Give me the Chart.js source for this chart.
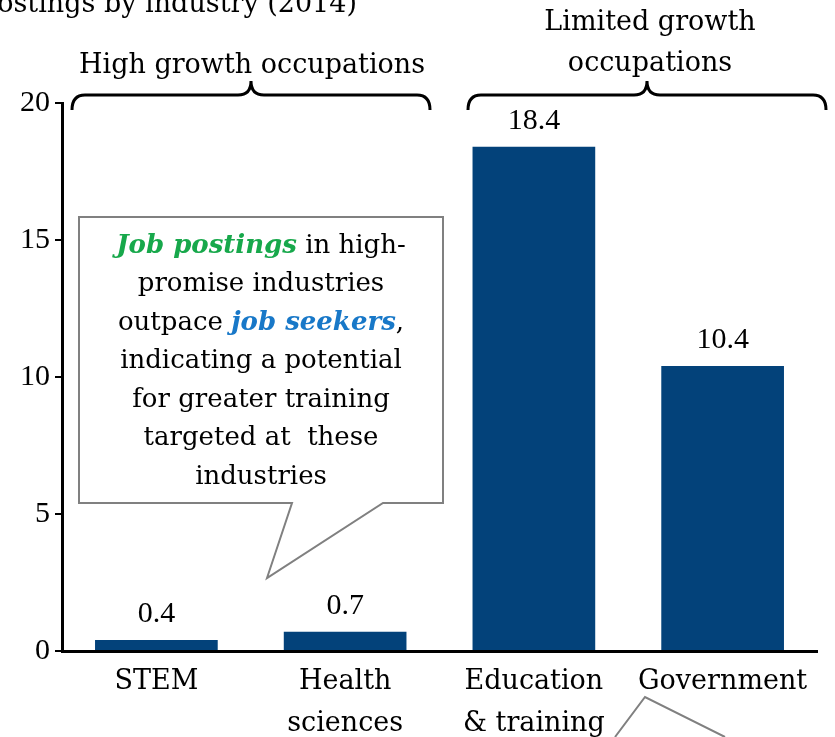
<!DOCTYPE html>
<html>
<head>
<meta charset="utf-8">
<script src="https://cdn.jsdelivr.net/npm/chart.js@4/dist/chart.umd.min.js"></script>
<style>
  body { margin: 0; background: #fff; }
  canvas { display: block; }
</style>
</head>
<body>
<canvas id="chart" width="835" height="737"></canvas>
<script>
const categories = [['STEM'], ['Health', 'sciences'], ['Education', '& training'], ['Government']];
const values = [0.4, 0.7, 18.4, 10.4];
const yTicks = [0, 5, 10, 15, 20];

const NUM_FONT = '"Liberation Serif", "Times New Roman", serif';
const FONT = '"DejaVu Serif", serif';
const barColor = '#03427a';

// braces, callout and value labels drawn on top of the chart
const decorations = {
    id: 'decorations',
    afterDraw(chart) {
        const ctx = chart.ctx;
        const meta = chart.getDatasetMeta(0);
        ctx.save();

        // value labels above bars
        ctx.fillStyle = '#000';
        ctx.font = '30px ' + NUM_FONT;
        ctx.textAlign = 'center';
        ctx.textBaseline = 'alphabetic';
        meta.data.forEach((bar, i) => {
            ctx.fillText(values[i].toFixed(1), bar.x, bar.y - 18);
        });

        // cut off title at the top
        ctx.textAlign = 'right';
        ctx.font = '27px ' + FONT;
        ctx.fillText('Job postings by industry (2014)', 357, 12);

        // group headings
        ctx.textAlign = 'center';
        ctx.font = '27px ' + FONT;
        ctx.fillText('High growth occupations', 252, 73);
        ctx.fillText('Limited growth', 650, 30);
        ctx.fillText('occupations', 650, 71);

        // curly braces
        ctx.strokeStyle = '#000';
        ctx.lineWidth = 3;
        const brace = (x1, x2) => {
            const mid = (x1 + x2) / 2;
            const r = 13;
            ctx.beginPath();
            ctx.moveTo(x1, 110);
            ctx.quadraticCurveTo(x1, 95, x1 + r, 95);
            ctx.lineTo(mid - r, 95);
            ctx.quadraticCurveTo(mid, 95, mid, 81);
            ctx.quadraticCurveTo(mid, 95, mid + r, 95);
            ctx.lineTo(x2 - r, 95);
            ctx.quadraticCurveTo(x2, 95, x2, 110);
            ctx.stroke();
        };
        brace(72, 430);
        brace(468, 826);

        // callout box
        ctx.strokeStyle = '#808080';
        ctx.fillStyle = '#fff';
        ctx.lineWidth = 2;
        ctx.beginPath();
        ctx.moveTo(79, 217);
        ctx.lineTo(443, 217);
        ctx.lineTo(443, 503);
        ctx.lineTo(383, 503);
        ctx.lineTo(267, 578);
        ctx.lineTo(292, 503);
        ctx.lineTo(79, 503);
        ctx.closePath();
        ctx.fill();
        ctx.stroke();

        // second callout pointer at the bottom
        ctx.beginPath();
        ctx.moveTo(615, 737);
        ctx.lineTo(645, 697);
        ctx.lineTo(725, 737);
        ctx.stroke();

        // callout text
        const plain = '26px ' + FONT;
        const accent = 'italic bold 26px ' + FONT;
        const lines = [
            [{ t: 'Job postings', f: accent, c: '#17a84b' }, { t: ' in high-', f: plain, c: '#000' }],
            [{ t: 'promise industries', f: plain, c: '#000' }],
            [{ t: 'outpace ', f: plain, c: '#000' }, { t: 'job seekers', f: accent, c: '#1878c8' }, { t: ',', f: plain, c: '#000' }],
            [{ t: 'indicating a potential', f: plain, c: '#000' }],
            [{ t: 'for greater training', f: plain, c: '#000' }],
            [{ t: 'targeted at  these', f: plain, c: '#000' }],
            [{ t: 'industries', f: plain, c: '#000' }]
        ];
        ctx.textAlign = 'left';
        ctx.textBaseline = 'middle';
        lines.forEach((parts, i) => {
            let total = 0;
            parts.forEach(p => { ctx.font = p.f; p.w = ctx.measureText(p.t).width; total += p.w; });
            let x = 261 - total / 2;
            const y = 246 + i * 38.5;
            parts.forEach(p => {
                ctx.font = p.f;
                ctx.fillStyle = p.c;
                ctx.fillText(p.t, x, y);
                x += p.w;
            });
        });

        ctx.restore();
    }
};

new Chart(document.getElementById('chart'), {
    type: 'bar',
    data: {
        labels: categories,
        datasets: [{
            data: values,
            backgroundColor: barColor,
            barPercentage: 0.65,
            categoryPercentage: 1
        }]
    },
    options: {
        responsive: false,
        animation: false,
        layout: { padding: { left: 0, top: 103, right: 18, bottom: 0 } },
        plugins: {
            legend: { display: false },
            tooltip: { enabled: false }
        },
        scales: {
            x: {
                grid: { display: false },
                border: { color: '#000', width: 3 },
                ticks: {
                    color: '#000',
                    font: { family: FONT, size: 27, lineHeight: 1.55 },
                    padding: 2,
                    maxRotation: 0,
                    autoSkip: false
                },
                afterFit: scale => { scale.height = 86; }
            },
            y: {
                min: 0,
                max: 20,
                afterBuildTicks: scale => { scale.ticks = yTicks.map(v => ({ value: v })); },
                grid: {
                    drawOnChartArea: false,
                    drawTicks: true,
                    tickLength: 7,
                    color: '#000',
                    lineWidth: 2
                },
                border: { color: '#000', width: 3 },
                ticks: {
                    color: '#000',
                    font: { family: NUM_FONT, size: 30 },
                    padding: 5
                },
                afterFit: scale => { scale.width = 62; }
            }
        }
    },
    plugins: [decorations]
});
</script>
</body>
</html>
